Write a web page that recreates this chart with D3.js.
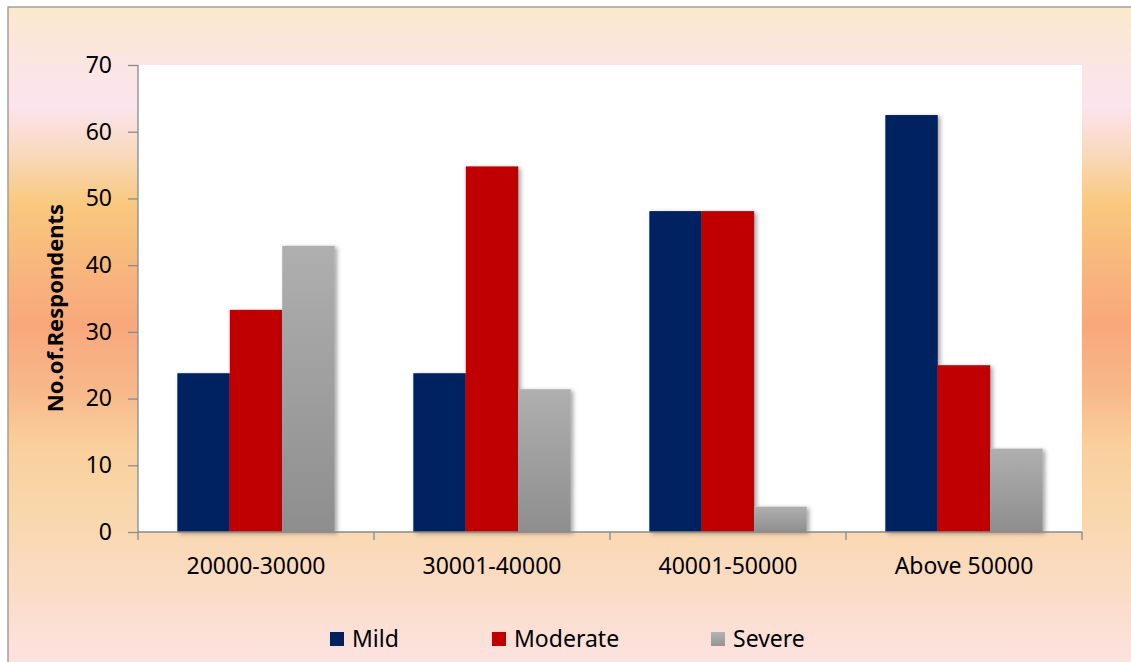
<!DOCTYPE html>
<html>
<head>
<meta charset="utf-8">
<script src="https://cdn.jsdelivr.net/npm/d3@7/dist/d3.min.js"></script>
<style>
  html, body { margin: 0; padding: 0; background: #ffffff; }
  svg { display: block; }
</style>
</head>
<body>
<svg id="chart" width="1131" height="662"></svg>
<script>
// Income groups and respondents per severity level
const categories = ["20000-30000", "30001-40000", "40001-50000", "Above 50000"];
const seriesNames = ["Mild", "Moderate", "Severe"];
const mild = [23.8, 23.8, 48.1, 62.5];
const moderate = [33.3, 54.8, 48.1, 25.0];
const severe = [42.9, 21.4, 3.8, 12.5];
const yTicks = [0, 10, 20, 30, 40, 50, 60, 70];

const seriesValues = [mild, moderate, severe];
const seriesColors = { Mild: "#002060", Moderate: "#c00000", Severe: "url(#severeGrad)" };
const legendColors = { Mild: "#002060", Moderate: "#c00000", Severe: "url(#severeGradLegend)" };

const svg = d3.select("#chart");
const W = 1131, H = 662;
const plot = { left: 138, top: 65, right: 1082, bottom: 532 };
const font = "'Noto Sans', 'Open Sans', sans-serif";
const fontSize = 23;

const defs = svg.append("defs");

// Background band of warm tones
const bg = defs.append("linearGradient").attr("id", "bgGrad")
  .attr("x1", 0).attr("y1", 0).attr("x2", 0).attr("y2", 1);
[
  [0.00, "#fae9cb"],
  [0.07, "#fbe6e0"],
  [0.15, "#fbe4ee"],
  [0.22, "#f9d9bd"],
  [0.30, "#f9c87d"],
  [0.40, "#f8b57d"],
  [0.48, "#f8a87b"],
  [0.58, "#f8b88a"],
  [0.66, "#f9cf9c"],
  [0.76, "#f9d7ab"],
  [0.88, "#fadcc5"],
  [1.00, "#fce3e3"]
].forEach(([o, c]) => bg.append("stop").attr("offset", o).attr("stop-color", c));

const sg = defs.append("linearGradient").attr("id", "severeGrad")
  .attr("x1", 0).attr("y1", 0).attr("x2", 0).attr("y2", 1);
sg.append("stop").attr("offset", 0).attr("stop-color", "#afafaf");
sg.append("stop").attr("offset", 1).attr("stop-color", "#8e8e8e");

const sgl = defs.append("linearGradient").attr("id", "severeGradLegend")
  .attr("x1", 0).attr("y1", 0).attr("x2", 0).attr("y2", 1);
sgl.append("stop").attr("offset", 0).attr("stop-color", "#b4b4b4");
sgl.append("stop").attr("offset", 1).attr("stop-color", "#939393");

const shadow = defs.append("filter").attr("id", "barShadow")
  .attr("x", "-20%").attr("y", "-10%").attr("width", "150%").attr("height", "130%");
shadow.append("feDropShadow")
  .attr("dx", 2.5).attr("dy", 1.5).attr("stdDeviation", 2)
  .attr("flood-color", "#000").attr("flood-opacity", 0.35);

// Chart area background and frame
svg.append("rect")
  .attr("x", 8).attr("y", 7).attr("width", W).attr("height", H)
  .attr("fill", "url(#bgGrad)")
  .attr("stroke", "#a0a0a0").attr("stroke-width", 1.5);

// White plot area
svg.append("rect")
  .attr("x", plot.left).attr("y", plot.top)
  .attr("width", plot.right - plot.left).attr("height", plot.bottom - plot.top)
  .attr("fill", "#ffffff");

// Scales
const x0 = d3.scaleBand().domain(categories).range([plot.left, plot.right]).paddingInner(0).paddingOuter(0);
const groupFrac = 3 / 4.5; // bars take 3 widths, gap takes 1.5 widths
const x1 = d3.scaleBand().domain(seriesNames)
  .range([0, x0.bandwidth() * groupFrac]).padding(0);
const groupOffset = x0.bandwidth() * (1 - groupFrac) / 2;
const y = d3.scaleLinear().domain([0, 70]).range([plot.bottom, plot.top]);

// Bars
const rows = [];
categories.forEach((c, i) => {
  seriesNames.forEach((s, j) => rows.push({ cat: c, series: s, value: seriesValues[j][i] }));
});

svg.append("g").attr("filter", "url(#barShadow)")
  .selectAll("rect").data(rows).enter().append("rect")
  .attr("x", d => x0(d.cat) + groupOffset + x1(d.series))
  .attr("y", d => y(d.value))
  .attr("width", x1.bandwidth())
  .attr("height", d => y(0) - y(d.value))
  .attr("fill", d => seriesColors[d.series]);

// Y axis
const yAxis = d3.axisLeft(y).tickValues(yTicks).tickSize(10).tickPadding(16);
const gy = svg.append("g").attr("transform", `translate(${plot.left},0)`).call(yAxis);
gy.select(".domain").attr("stroke", "#8a8a8a").attr("stroke-width", 1.3)
  .attr("d", `M0,${plot.top}V${plot.bottom}`);
gy.selectAll(".tick line").attr("stroke", "#8a8a8a").attr("stroke-width", 1.3);
gy.selectAll(".tick text").attr("font-family", font).attr("font-size", fontSize).attr("fill", "#000");

// X axis with ticks at category boundaries
const xAxis = d3.axisBottom(x0).tickSize(0).tickPadding(26);
const gx = svg.append("g").attr("transform", `translate(0,${plot.bottom})`).call(xAxis);
gx.select(".domain").attr("stroke", "#8a8a8a").attr("stroke-width", 1.3)
  .attr("d", `M${plot.left},0H${plot.right}`);
gx.selectAll(".tick text").attr("font-family", font).attr("font-size", fontSize).attr("fill", "#000");
const bounds = categories.map(c => x0(c)).concat([plot.right]);
gx.selectAll("line.bound").data(bounds).enter().append("line")
  .attr("class", "bound")
  .attr("x1", d => d).attr("x2", d => d).attr("y1", 0).attr("y2", 8)
  .attr("stroke", "#8a8a8a").attr("stroke-width", 1.3);

// Y axis title
svg.append("text")
  .attr("transform", "translate(63,308) rotate(-90)")
  .attr("text-anchor", "middle")
  .attr("font-family", font).attr("font-weight", "bold").attr("font-size", 22)
  .attr("fill", "#000")
  .text("No.of.Respondents");

// Legend
const legendX = [330, 492, 711];
const lg = svg.append("g").selectAll("g").data(seriesNames).enter().append("g")
  .attr("transform", (d, i) => `translate(${legendX[i]},632)`);
lg.append("rect").attr("width", 14).attr("height", 14)
  .attr("fill", d => legendColors[d]);
lg.append("text").attr("x", 22).attr("y", 7).attr("dy", "0.35em")
  .attr("font-family", font).attr("font-size", fontSize).attr("fill", "#000")
  .text(d => d);
</script>
</body>
</html>
